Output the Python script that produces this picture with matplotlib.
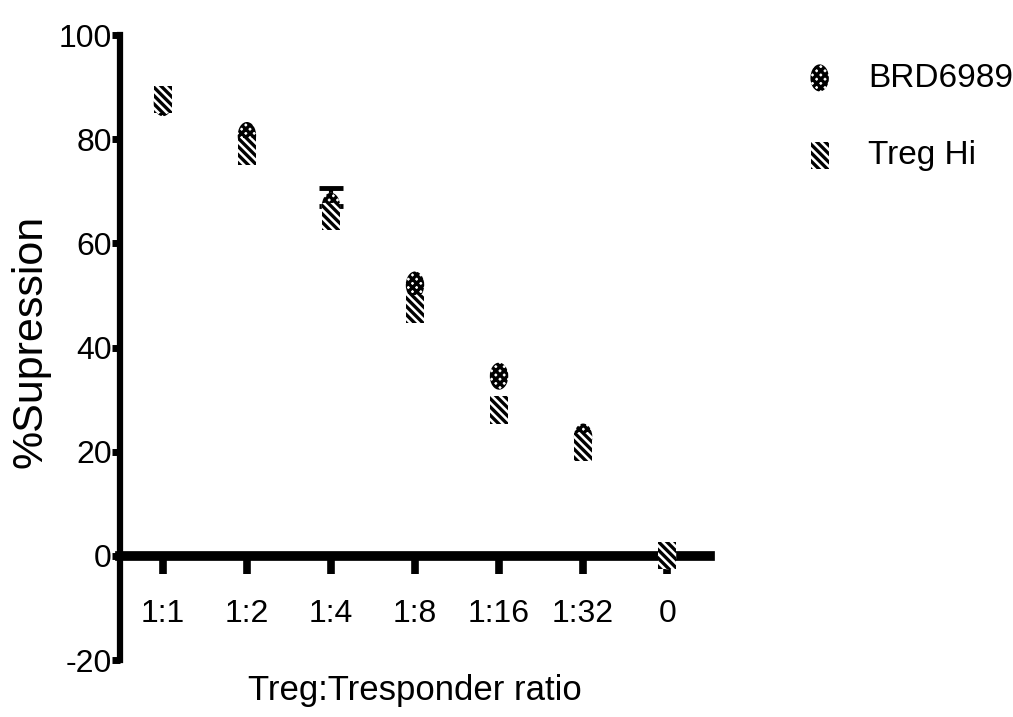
import matplotlib
matplotlib.use("Agg")
import matplotlib.pyplot as plt
from matplotlib.path import Path
import numpy as np

categories = ["1:1", "1:2", "1:4", "1:8", "1:16", "1:32", "0"]
brd6989 = [87.0, 80.7, 67.1, 52.0, 34.5, 22.8, 0.0]
treg_hi = [87.6, 77.6, 65.1, 47.4, 28.0, 20.9, 0.0]
brd_err_up = [0, 0, 3.5, 0, 0, 0, 0]
y_ticks = [-20, 0, 20, 40, 60, 80, 100]

plt.rcParams["axes.unicode_minus"] = False
plt.rcParams["hatch.linewidth"] = 2.4
font = "Liberation Sans"

# tall (vertically stretched) marker shapes
rect = Path([(-0.33, -0.5), (0.33, -0.5), (0.33, 0.5), (-0.33, 0.5), (-0.33, -0.5)],
            [Path.MOVETO, Path.LINETO, Path.LINETO, Path.LINETO, Path.CLOSEPOLY])
circ = Path.unit_circle()
circ = Path(circ.vertices * np.array([0.34, 0.5]), circ.codes)

fig = plt.figure(figsize=(10.13, 7.17), dpi=100)
ax = fig.add_axes([120/1013, 57/717, 590/1013, 625/717])

x = np.arange(len(categories))
err_idx = [i for i, e in enumerate(brd_err_up) if e > 0]
ax.errorbar(x[err_idx], [brd6989[i] for i in err_idx],
            yerr=[[0]*len(err_idx), [brd_err_up[i] for i in err_idx]], fmt="none",
            ecolor="black", elinewidth=3, capsize=8.3, capthick=3.5, zorder=2)
ax.scatter(x, brd6989, marker=circ, s=19.5**2, facecolor="white", edgecolor="black",
           linewidth=0, hatch="xxxx", zorder=3, label="BRD6989")
ax.scatter(x, treg_hi, marker=rect, s=19.5**2, facecolor="white", edgecolor="black",
           linewidth=0, hatch="\\\\\\\\", zorder=4, label="Treg Hi")

ax.set_xlim(-0.51, 6.51)
ax.set_ylim(-20, 100)
ax.set_yticks(y_ticks)
ax.set_xticks(x)
ax.set_xticklabels(categories)

for s in ["top", "right"]:
    ax.spines[s].set_visible(False)
ax.spines["bottom"].set_position(("data", 0))
ax.spines["bottom"].set_linewidth(7)
ax.spines["left"].set_linewidth(4.5)
ax.tick_params(axis="y", direction="out", length=6, width=5, pad=0, labelsize=23)
ax.tick_params(axis="x", direction="out", length=13, width=5.5, pad=18, labelsize=23)
for lab in ax.get_yticklabels() + ax.get_xticklabels():
    lab.set_family(font)

ax.set_xlabel("Treg:Tresponder ratio", family=font, fontsize=25)
ax.xaxis.set_label_coords(0.5, -0.022)
ax.xaxis.label.set_va("top")
ax.set_ylabel("%Supression", family=font, fontsize=31)
ax.yaxis.set_label_coords(-0.118, 0.51)

leg = ax.legend(loc="upper left", bbox_to_anchor=(783/1013, 1 - 46/717),
                bbox_transform=fig.transFigure, frameon=False, scatterpoints=1,
                prop={"family": font, "size": 24}, handletextpad=0.85,
                labelspacing=1.4, borderpad=0, handlelength=1.2)

fig.savefig("out.png", dpi=100)
